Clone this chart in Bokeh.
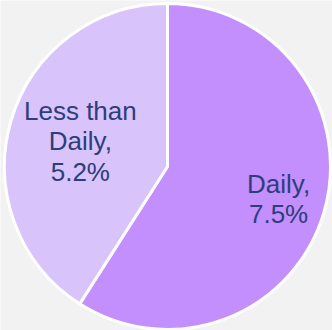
import math
from bokeh.plotting import figure
from bokeh.models import Range1d, ColumnDataSource
from bokeh.core.properties import value
from bokeh.embed import file_html
from bokeh.resources import INLINE

categories = ["Daily", "Less than Daily"]
values = [7.5, 5.2]
label_lines = [["Daily,"], ["Less than", "Daily,"]]
colors = ["#c28ffd", "#d8c3fb"]
label_radius = [0.71, 0.557]

W, H = 332, 330
cx, cy, R = 167, 164, 163

p = figure(width=W, height=H, output_backend="svg", toolbar_location=None,
           x_range=Range1d(0, W), y_range=Range1d(0, H), min_border=0)
p.axis.visible = False
p.grid.visible = False
p.outline_line_color = None
p.background_fill_color = "#f2f2f2"
p.border_fill_color = "#f2f2f2"

total = sum(values)
start = math.pi / 2
starts, ends, mids = [], [], []
for v in values:
    a = 2 * math.pi * v / total
    ends.append(start)
    starts.append(start - a)
    mids.append(start - a / 2)
    start -= a

src = ColumnDataSource(dict(x=[cx] * len(values), y=[cy] * len(values),
                            s=starts, e=ends, c=colors))
p.wedge(x="x", y="y", radius=R, start_angle="s", end_angle="e",
        fill_color="c", line_color="white", line_width=3, source=src)

lh = 30.5
tx, ty, tt = [], [], []
for i, v in enumerate(values):
    lines = label_lines[i] + [f"{v}%"]
    r = R * label_radius[i]
    lx = cx + r * math.cos(mids[i])
    ly = cy + r * math.sin(mids[i])
    n = len(lines)
    for j, t in enumerate(lines):
        tx.append(lx)
        ty.append(ly + ((n - 1) / 2 - j) * lh)
        tt.append(t)

p.text(x=tx, y=ty, text=tt, text_align="center", text_baseline="middle",
       text_font=value("Liberation Sans"), text_font_size="26px",
       text_color="#2e3d7c")

open("out.html", "w").write(file_html(p, INLINE))
